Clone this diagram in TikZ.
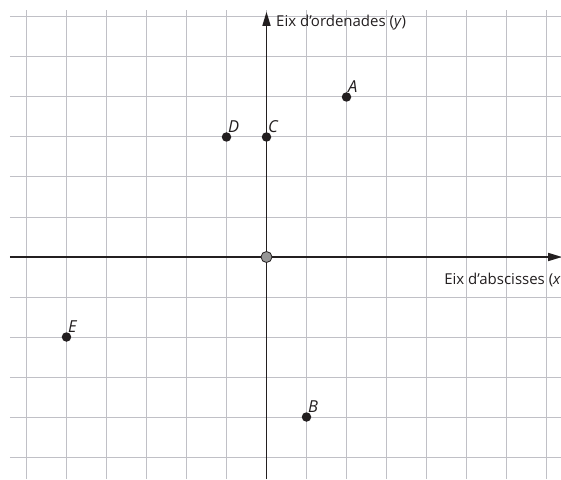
\documentclass[tikz,border=0pt]{standalone}
\usepackage{fontspec}
\setmainfont{Open Sans}
\usetikzlibrary{arrows.meta}
\definecolor{gridc}{RGB}{192,192,198}
\definecolor{axisc}{RGB}{35,31,32}
\definecolor{origc}{RGB}{150,150,150}
\begin{document}
\begin{tikzpicture}[x=40pt,y=40pt,
  gridline/.style={draw=gridc,line width=1pt},
  axisline/.style={draw=axisc,line width=1.6pt,-{Triangle[length=14pt,width=8pt]}},
  pointdot/.style={circle,fill=axisc,inner sep=0pt,minimum size=9.5pt},
  pointlabel/.style={anchor=south west,inner sep=0pt,font=\itshape\fontsize{16.5}{19}\selectfont,text=axisc},
  axislabel/.style={font=\fontsize{15}{17}\selectfont,text=axisc,inner sep=0pt}]
\useasboundingbox (-6.6625,-5.55) rectangle (7.3625,6.425);
\fill[white] (-6.6625,-5.55) rectangle (7.3625,6.425);
\foreach \y in {-5,...,6} \draw[gridline] (-6.4125,\y) -- (7.3625,\y);
\foreach \x in {-6,...,7} \draw[gridline] (\x,-5.55) -- (\x,6.175);
\coordinate (xs) at (-6.4125,0);
\coordinate (xe) at (7.39,0);
\coordinate (ys) at (0,-5.55);
\coordinate (ye) at (0,6.13);
\draw[axisline] (xs) -- (xe);
\draw[axisline] (ys) -- (ye);
\node[axislabel,anchor=west] (ylab) at (0.2375,5.85) {Eix d’ordenades (\textit{y})};
\node[axislabel,anchor=east] (xlab) at (7.3625,-0.575) {Eix d’abscisses (\textit{x}};
\node[circle,fill=origc,draw=axisc,line width=0.8pt,inner sep=0pt,minimum size=11pt] (O) at (0,0) {};
\node[pointdot] (A) at (2,4) {};
\node[pointdot] (B) at (1,-4) {};
\node[pointdot] (C) at (0,3) {};
\node[pointdot] (D) at (-1,3) {};
\node[pointdot] (E) at (-5,-2) {};
\node[pointlabel] (Al) at ([xshift=1.5pt,yshift=4.5pt]A.center) {A};
\node[pointlabel] (Bl) at ([xshift=1.5pt,yshift=4.5pt]B.center) {B};
\node[pointlabel] (Cl) at ([xshift=1.5pt,yshift=4.5pt]C.center) {C};
\node[pointlabel] (Dl) at ([xshift=1.5pt,yshift=4.5pt]D.center) {D};
\node[pointlabel] (El) at ([xshift=1.5pt,yshift=4.5pt]E.center) {E};
\end{tikzpicture}
\end{document}
